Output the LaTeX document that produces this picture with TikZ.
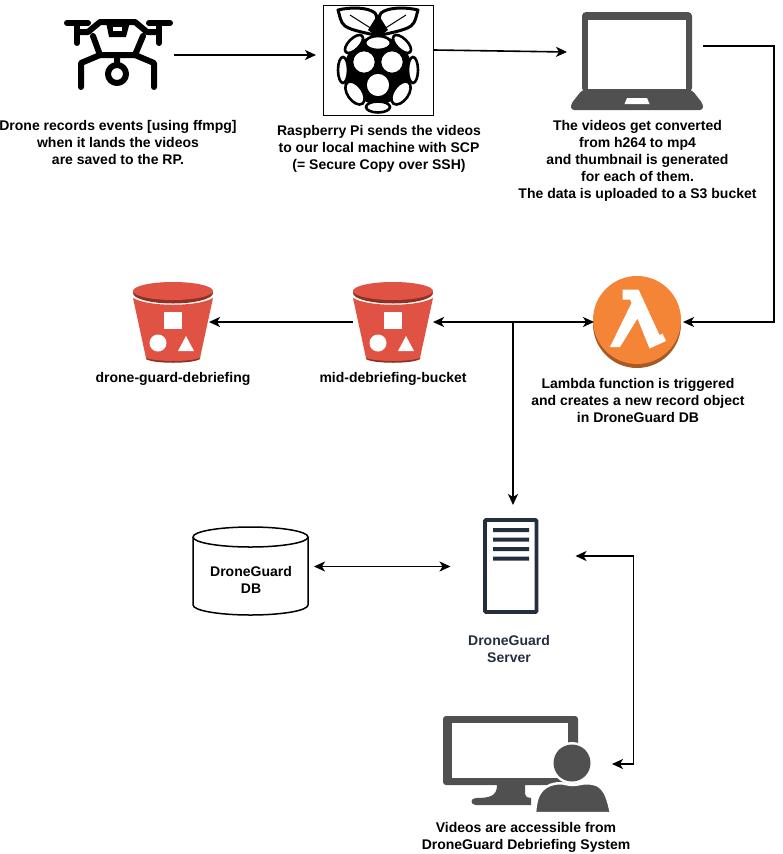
\documentclass[tikz,border=0pt]{standalone}
\usepackage{fontspec}
\setmainfont{Liberation Sans}
\usetikzlibrary{arrows.meta,calc}
\definecolor{iconGray}{HTML}{505050}
\definecolor{bucketRed}{HTML}{E05243}
\definecolor{bucketDark}{HTML}{8C3123}
\definecolor{lambdaOrange}{HTML}{F58536}
\definecolor{lambdaDark}{HTML}{A85A26}
\definecolor{serverNavy}{HTML}{232F3E}
\tikzset{
  port/.style={inner sep=0,outer sep=0,minimum width=#1},
  label/.style={align=center,inner sep=0,font=\bfseries\fontsize{14}{17}\selectfont},
  conn/.style={line width=1.6pt,-{Stealth[length=11pt,width=10pt,inset=3pt]}},
  conn2/.style={line width=1.6pt,{Stealth[length=11pt,width=10pt,inset=3pt]}-{Stealth[length=11pt,width=10pt,inset=3pt]}},
  dronestroke/.style={line width=6pt,line cap=round,line join=round,black},
  berryhole/.style={fill=white,draw=black,line width=2.6pt},
}
\newcommand{\drawbucket}[1]{%
  \begin{scope}[shift={(#1,0)}]
    \fill[bucketDark] (-27,356) -- (27,356) -- (27,359) .. controls (20,364) and (-20,364) .. (-27,359) -- cycle;
    \fill[bucketRed] (-40,298) .. controls (-25,307) and (25,307) .. (40,298) -- (27,358) .. controls (15,362) and (-15,362) .. (-27,358) -- cycle;
    \fill[bucketDark] (0,293) ellipse [x radius=40,y radius=10.5];
    \fill[bucketRed] (0,291) ellipse [x radius=40,y radius=9];
    \fill[white] (-8.7,311.7) rectangle (8.7,329);
    \fill[white] (-15,343) circle [radius=8.5];
    \fill[white] (5,351) -- (13,336) -- (21,351) -- cycle;
  \end{scope}}
\begin{document}
\begin{tikzpicture}[x=1pt,y=-1pt]
\useasboundingbox (0,0) rectangle (783,854);
% drone
\draw[dronestroke] (67,23) -- (88,23) (77,23) -- (77,43) (149,23) -- (170,23) (159,23) -- (159,43);
\draw[dronestroke] (77,32) -- (88,32) -- (100,22) -- (135,22) -- (147,32) -- (159,32);
\fill[black] (106,22) -- (130,22) -- (126,37) -- (109,37) -- cycle;
\fill[white] (113,27) rectangle (122,31);
\draw[dronestroke] (93,36) -- (100,55) -- (135,55) -- (143,36);
\draw[dronestroke] (81,87) -- (81,63) -- (100,55) (154,87) -- (154,63) -- (135,55) (117,55) -- (117,64);
\draw[dronestroke,line cap=butt] (117,74) circle [radius=9];
\node[port=112pt,minimum height=80pt] (drone) at (118,55) {};
% raspberry pi
\draw[line width=1pt,fill=white] (323.5,5.5) rectangle (433.5,115);
\draw[black,fill=white,line width=3pt,line join=round] (378,36) .. controls (368,33) and (352,31) .. (345,26) .. controls (340,22) and (340,16) .. (338,10) .. controls (350,7) and (368,7) .. (375,13) .. controls (378,18) and (378,28) .. (378,36) -- cycle;
\draw[black,fill=white,line width=3pt,line join=round] (378,36) .. controls (388,33) and (404,31) .. (411,26) .. controls (416,22) and (416,16) .. (418,10) .. controls (406,7) and (388,7) .. (381,13) .. controls (378,18) and (378,28) .. (378,36) -- cycle;
\draw[black,line width=1pt] (350,15) -- (372,29) (406,15) -- (384,29);
\fill[black] (378,14) -- (368,30) -- (378,38) -- (388,30) -- cycle;
\draw[black,fill=black,line width=3pt,line join=round] (378,36) -- (354,44) -- (343,70) -- (355,93) -- (378,107) -- (401,93) -- (413,70) -- (402,44) -- cycle;
\draw[berryhole] (378,43) ellipse [x radius=13,y radius=7];
\draw[berryhole,rotate around={45:(354,44)}] (354,44) ellipse [x radius=11.5,y radius=5.5];
\draw[berryhole,rotate around={-45:(402,44)}] (402,44) ellipse [x radius=11.5,y radius=5.5];
\draw[berryhole] (364,62) circle [radius=12];
\draw[berryhole] (392,62) circle [radius=12];
\draw[berryhole] (378,85) circle [radius=12.5];
\draw[berryhole] (343,70) ellipse [x radius=5,y radius=13];
\draw[berryhole] (413,70) ellipse [x radius=5,y radius=13];
\draw[berryhole,rotate around={-55:(355,93)}] (355,93) ellipse [x radius=13,y radius=7.5];
\draw[berryhole,rotate around={55:(401,93)}] (401,93) ellipse [x radius=13,y radius=7.5];
\draw[berryhole] (378,107) ellipse [x radius=12,y radius=5.5];
\node[port=118pt,minimum height=105pt] (pi) at (375,52.5) {};
% laptop
\fill[iconGray,rounded corners=4pt] (582,12) rectangle (692,92);
\fill[iconGray,rounded corners=3pt] (582,90) -- (692,90) -- (703,104) -- (703,110) -- (571,110) -- (571,104) -- cycle;
\fill[white] (588,20) rectangle (686,89);
\fill[white] (627,98) -- (647,98) -- (649.5,104) -- (624.5,104) -- cycle;
\node[port=136pt,minimum height=80pt] (laptop) at (635,49) {};
% lambda
\fill[lambdaDark] (637,324) circle [radius=44];
\fill[lambdaOrange] (637,320) circle [radius=44];
\fill[white] (622.5,289.5) -- (638.5,289.5) -- (659.5,335) -- (662.5,333.5) -- (666,341) -- (649.5,348.5) -- (637.5,318.5) -- (620,347) -- (610,347) -- (631.5,303) -- (630,299.5) -- (622.5,299.5) -- cycle;
\node[port=89pt,minimum height=90pt] (lambda) at (638.5,322) {};
% buckets
\drawbucket{173}
\drawbucket{393}
\node[port=72pt,minimum height=80pt] (leftb) at (173,322) {};
\node[port=80pt,minimum height=80pt] (midb) at (393,322) {};
% server
\draw[serverNavy,line width=3.8pt,rounded corners=1pt] (485,520) rectangle (536.5,612);
\fill[serverNavy] (493,528) rectangle (529,532) (493,537.5) rectangle (529,541.5) (493,547) rectangle (529,551) (493,556.5) rectangle (529,560.5);
\node[port=125pt,minimum height=113pt] (server) at (513,561.5) {};
% database
\draw[line width=1.5pt,fill=white] (193,537) -- (193,605) arc [start angle=180,end angle=0,x radius=57.5,y radius=10] -- (308,537) arc [start angle=0,end angle=-180,x radius=57.5,y radius=10] -- cycle;
\draw[line width=1.5pt] (193,537) arc [start angle=180,end angle=0,x radius=57.5,y radius=10];
\node[port=121pt,minimum height=88pt] (db) at (253.5,566.5) {};
% monitor
\fill[iconGray,rounded corners=3pt] (443,716) rectangle (578,785);
\fill[white] (452,723) rectangle (568,778);
\fill[iconGray] (497,785) -- (525,785) -- (525,794) .. controls (525,797) and (528,798) .. (531,798) -- (531,805) -- (476,805) .. controls (470,805) and (470,798) .. (476,798) .. controls (490,798) and (497,796) .. (497,785) -- cycle;
\fill[iconGray,draw=white,line width=2.5pt] (535,813) .. controls (536,800) and (538,790) .. (550,785) .. controls (562,781) and (566,785) .. (572,785) .. controls (580,785) and (585,781) .. (597,785) .. controls (606,790) and (608,800) .. (611,813) -- cycle;
\fill[white] (572,763) circle [radius=21];
\fill[iconGray] (572,763) circle [radius=18.5];
\node[port=169pt,minimum height=100pt] (monitor) at (527.5,764) {};
% connectors
\coordinate (turn) at (774,184);
\draw[conn] ([yshift=-2.5pt]pi.west -| drone.east) -- ([yshift=-2.5pt]pi.west);
\draw[conn] ([yshift=2.5pt]pi.east) -- ([yshift=-3pt]laptop.west);
\draw[conn] ([yshift=3pt]laptop.east) -| (turn) |- (lambda.east);
\draw[conn] (midb.west) -- (leftb.east);
\draw[conn2] (midb.east) -- (lambda.west);
\draw[conn] (midb.east -| server.north) -- (server.north);
\draw[conn2] (db.east) -- ([yshift=-5pt]server.west);
\draw[conn2] ([yshift=5.5pt]server.east) -- ++(58,0) |- (monitor.east);
% labels
\node[label] (t1) at (118,142) {Drone records events [using ffmpg]\\when it lands the videos\\are saved to the RP.};
\node[label] (t2) at (379,149) {Raspberry Pi sends the videos\\to our local machine with SCP\\(= Secure Copy over SSH)};
\node[label] (t3) at (637.5,160.5) {The videos get converted\\from h264 to mp4\\and thumbnail is generated\\for each of them.\\The data is uploaded to a S3 bucket};
\node[label] (t4) at (173,379) {drone-guard-debriefing};
\node[label] (t5) at (393,379) {mid-debriefing-bucket};
\node[label] (t6) at (638,400) {Lambda function is triggered\\and creates a new record object\\in DroneGuard DB};
\node[label] (t7) at (251,580) {DroneGuard\\DB};
\node[label,text=serverNavy] (t8) at (509,648.5) {DroneGuard\\Server};
\node[label] (t9) at (526,837) {Videos are accessible from\\DroneGuard Debriefing System};
\end{tikzpicture}
\end{document}
